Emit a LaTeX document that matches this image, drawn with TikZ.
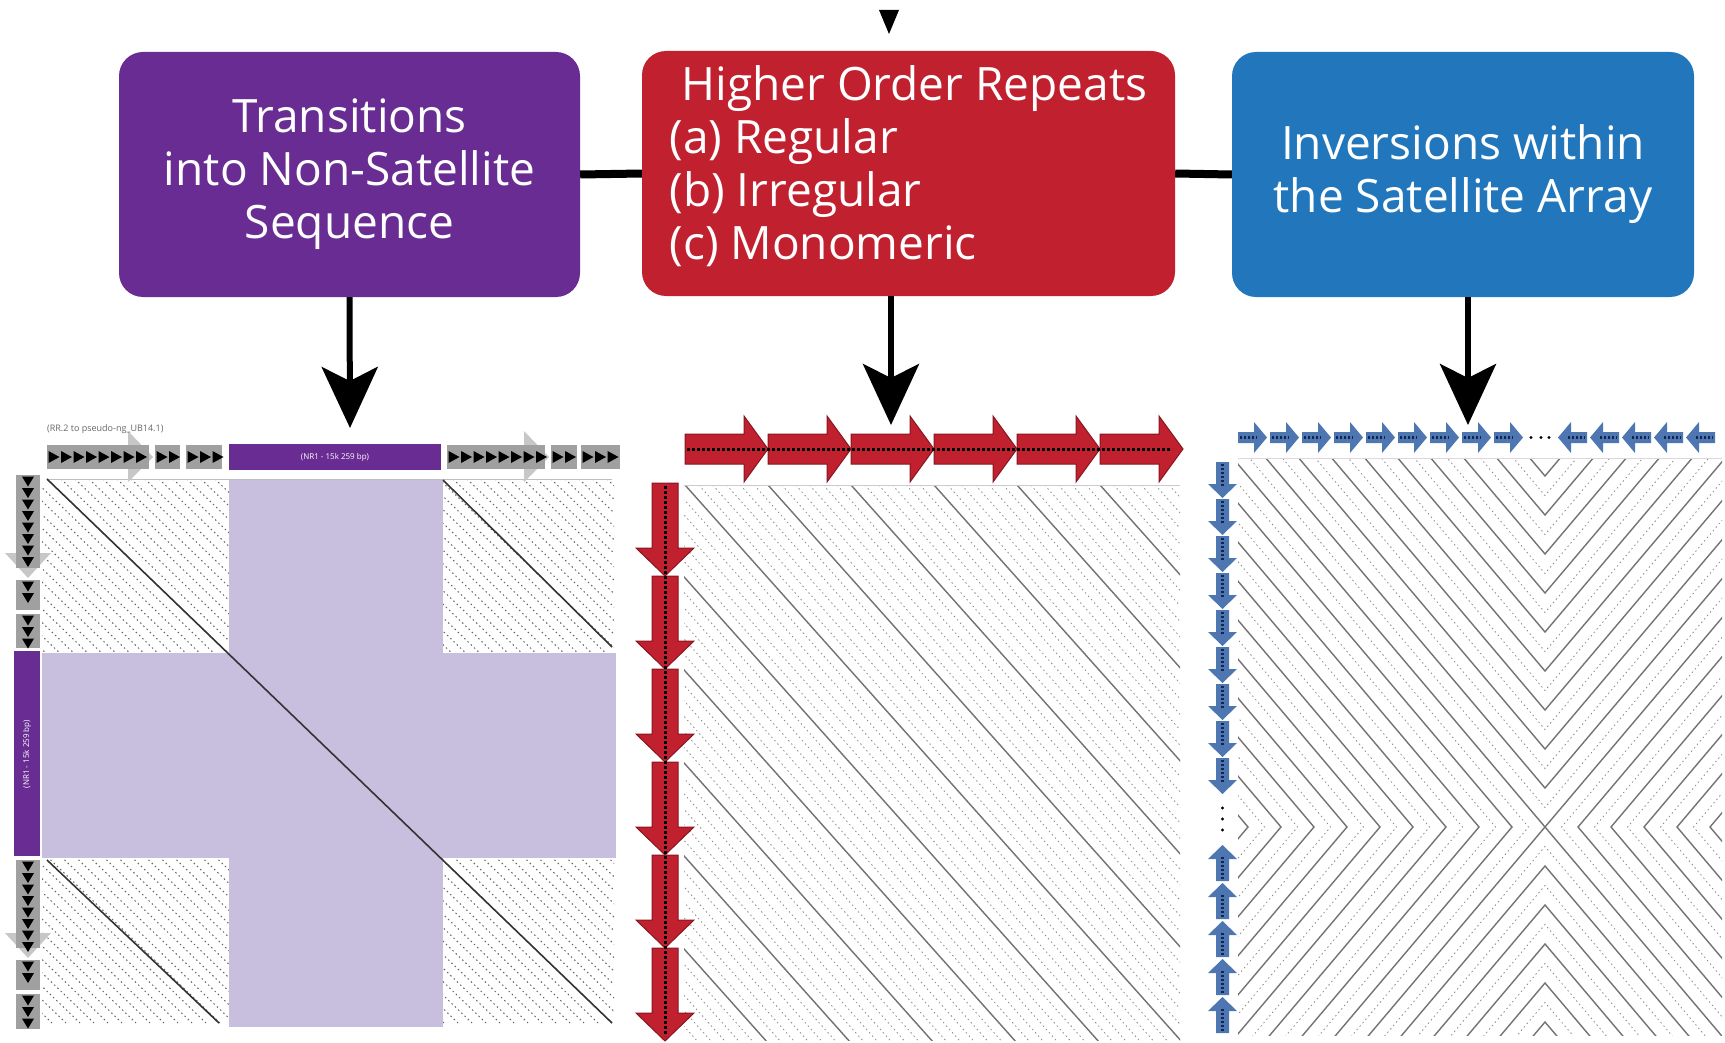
\documentclass[tikz,border=0pt]{standalone}
\usepackage{fontspec}
\setmainfont{Open Sans}
\usetikzlibrary{arrows.meta}

\definecolor{viola}{RGB}{104,44,146}
\definecolor{rosso}{RGB}{193,32,47}
\definecolor{blu}{RGB}{33,118,188}
\definecolor{lilla}{RGB}{200,190,222}
\definecolor{grigio}{RGB}{160,160,160}
\definecolor{bluchiaro}{RGB}{78,118,176}
\definecolor{blunotte}{RGB}{20,35,80}

\tikzset{
  scatola/.style={rounded corners=24pt, minimum width=#1, minimum height=245pt, inner sep=0pt,
    text=white, align=center, font=\fontsize{46}{53}\selectfont},
  freccia/.style={line width=6pt, -{Stealth[length=61pt, width=56pt, inset=14pt]}},
  linea/.style={line width=8pt},
  trama/.style={black!45, line width=0.8pt, dash pattern=on 1.5pt off 3pt},
  diag/.style={black!55, line width=1.4pt},
  piccolo/.style={inner sep=0pt, font=\fontsize{8}{8}\selectfont}
}

\begin{document}
\begin{tikzpicture}[x=1pt, y=-1pt]
        \useasboundingbox (0,0) rectangle (1725,1043);

        % Freccia in alto
        \fill (879,10) -- (899,10) -- (889,34) -- cycle;

        % Riquadri
        \node[scatola=461pt, fill=viola] (transiz) at (349.5,174.5) {Transitions\\into Non-Satellite\\Sequence};
        \node[scatola=533pt, fill=rosso, align=left] (hor) at (908.5,173.5) {\hspace{12pt}Higher Order Repeats\\(a) Regular\\(b) Irregular\\(c) Monomeric\\[-32pt]};
        \node[scatola=462pt, fill=blu] (inv) at (1463,174.5) {Inversions within\\the Satellite Array};

        % Collegamenti
        \draw[linea] (transiz.east) -- (hor.west);
        \draw[linea] (hor.east) -- (inv.west);

        % Pannello sinistro: trama e bande
        \begin{scope}
            \clip (42,479) rectangle (614,1029);
            \foreach \t in {-40,...,40}
                \draw[trama, black!60, line width=1pt] (47+14*\t,479) -- ++(565,544);
        \end{scope}
        \fill[lilla] (229,479) rectangle (443,1027);
        \fill[lilla] (42,653) rectangle (616,858);
        \draw[black!25, line width=0.8pt] (47,479) -- (612,479);
        \draw[black!80, line width=1.6pt] (47,479) -- (612,1023);
        \draw[black!80, line width=1.6pt] (443,480) -- (612,647);
        \draw[black!80, line width=1.6pt] (47,860) -- (219,1023);

        % Traccia orizzontale
        \fill[black!22] (47,446) -- (128,446) -- (128,431) -- (153,457) -- (128,482) -- (128,468) -- (47,468) -- cycle;
        \fill[black!22] (447,446) -- (524,446) -- (524,431) -- (549,457) -- (524,482) -- (524,468) -- (447,468) -- cycle;
        \foreach \a/\b in {47/149, 155/180, 186/222, 447/545, 551/577, 581/620}
            \fill[grigio] (\a,445) rectangle (\b,469);
        \foreach \a/\n in {47/8, 155/2, 186/3, 447/8, 551/2, 581/3}
            \foreach \i in {1,...,\n}
                \fill (\a+12.5*\i-11,451) -- (\a+12.5*\i-11,463) -- (\a+12.5*\i,457) -- cycle;
        \fill[viola] (229,444) rectangle (441,470);
        \node[piccolo, text=white] (nrA) at (335,457) {(NR1 - 15k 259 bp)};
        \node[piccolo, anchor=west, text=black!60, font=\fontsize{9}{9}\selectfont] (didasc) at (47,429) {(RR.2 to pseudo-ng\_UB14.1)};

        % Traccia verticale
        \fill[black!22] (17,475) -- (39,475) -- (39,553) -- (51,553) -- (28,578) -- (5,553) -- (17,553) -- cycle;
        \fill[black!22] (17,860) -- (39,860) -- (39,933) -- (51,933) -- (28,958) -- (5,933) -- (17,933) -- cycle;
        \foreach \a/\b in {475/568, 580/610, 614/648, 860/948, 960/990, 994/1029}
            \fill[grigio] (16,\a) rectangle (40,\b);
        \foreach \a/\n in {475/8, 580/2, 614/3, 860/8, 960/2, 994/3}
            \foreach \i in {1,...,\n}
                \fill (22,\a+11.5*\i-10) -- (34,\a+11.5*\i-10) -- (28,\a+11.5*\i) -- cycle;
        \fill[viola] (14,651) rectangle (40,856);
        \node[piccolo, text=white, rotate=90] (nrB) at (27,754) {(NR1 - 15k 259 bp)};

        % Pannello centrale
        \begin{scope}
            \clip (684,485) rectangle (1180,1040);
            \foreach \t in {-40,...,36}
                \draw[trama] (685+13.83*\t,485) -- ++(560,627.5);
            \foreach \k in {-6,...,5}
                \draw[diag] (685+83*\k,485) -- ++(560,627.5);
        \end{scope}
        \draw[black!20, line width=0.8pt] (684,485) -- (1180,485);
        \foreach \x in {685,768,...,1100}
            \filldraw[fill=rosso, draw=rosso!70!black, line width=1pt] (\x,434) -- (\x+59,434) -- (\x+59,416) -- (\x+83,449) -- (\x+59,482) -- (\x+59,464) -- (\x,464) -- cycle;
        \foreach \y in {483,576,...,948}
            \filldraw[fill=rosso, draw=rosso!70!black, line width=1pt] (652,\y) -- (678,\y) -- (678,\y+65) -- (694,\y+65) -- (665,\y+93) -- (636,\y+65) -- (652,\y+65) -- cycle;
        \draw[dash pattern=on 3pt off 2pt, line width=3pt] (687,449) -- (1172,449);
        \draw[dash pattern=on 3pt off 2pt, line width=3pt] (665,486) -- (665,1036);

        % Pannello destro: inversione
        \begin{scope}
            \clip (1238,458) rectangle (1722,1035);
            \foreach \k in {0,...,10} {
                \draw[diag] (1149-33*\k,359) -- (1545-33*\k,827) -- (1149-33*\k,1295);
                \draw[diag] (1941+33*\k,359) -- (1545+33*\k,827) -- (1941+33*\k,1295);
            }
            \foreach \m in {1,...,10} {
                \draw[diag] (1149,359-39*\m) -- (1545,827-39*\m) -- (1941,359-39*\m);
                \draw[diag] (1149,1295+39*\m) -- (1545,827+39*\m) -- (1941,1295+39*\m);
            }
            \foreach \k in {0.5,1.5,...,10.5} {
                \draw[trama] (1149-33*\k,359) -- (1545-33*\k,827) -- (1149-33*\k,1295);
                \draw[trama] (1941+33*\k,359) -- (1545+33*\k,827) -- (1941+33*\k,1295);
                \draw[trama] (1149,359-39*\k) -- (1545,827-39*\k) -- (1941,359-39*\k);
                \draw[trama] (1149,1295+39*\k) -- (1545,827+39*\k) -- (1941,1295+39*\k);
            }
        \end{scope}
        \draw[black!15, line width=0.8pt] (1238,458) -- (1722,458);
        \foreach \x in {1238,1270,...,1494} {
            \fill[bluchiaro] (\x,432) -- (\x+16,432) -- (\x+16,422) -- (\x+29,437.5) -- (\x+16,453) -- (\x+16,443) -- (\x,443) -- cycle;
            \draw[blunotte, line width=3pt, dash pattern=on 2pt off 2pt] (\x+2,437.5) -- (\x+19,437.5);
        }
        \foreach \x in {1558,1590,...,1686} {
            \fill[bluchiaro] (\x+29,432) -- (\x+13,432) -- (\x+13,422) -- (\x,437.5) -- (\x+13,453) -- (\x+13,443) -- (\x+29,443) -- cycle;
            \draw[blunotte, line width=3pt, dash pattern=on 2pt off 2pt] (\x+10,437.5) -- (\x+27,437.5);
        }
        \foreach \x in {1531,1541,1549}
            \fill (\x,437.5) circle (1.6pt);
        \foreach \y in {462,499,...,758} {
            \fill[bluchiaro] (1216,\y) -- (1229,\y) -- (1229,\y+22) -- (1237,\y+22) -- (1222.5,\y+36) -- (1208,\y+22) -- (1216,\y+22) -- cycle;
            \draw[blunotte, line width=3pt, dash pattern=on 2pt off 2pt] (1222.5,\y+2) -- (1222.5,\y+24);
        }
        \foreach \y in {845,883,...,997} {
            \fill[bluchiaro] (1222.5,\y) -- (1237,\y+14) -- (1229,\y+14) -- (1229,\y+36) -- (1216,\y+36) -- (1216,\y+14) -- (1208,\y+14) -- cycle;
            \draw[blunotte, line width=3pt, dash pattern=on 2pt off 2pt] (1222.5,\y+12) -- (1222.5,\y+34);
        }
        \foreach \y in {808,819,830}
            \fill (1222.5,\y) circle (1.6pt);

        % Frecce verso i grafici
        \coordinate (dotA) at (350,428);
        \coordinate (dotB) at (891,425);
        \coordinate (dotC) at (1468,425);
        \draw[freccia] (transiz.south) -- (dotA);
        \draw[freccia] (dotB |- hor.south) -- (dotB);
        \draw[freccia] (dotC |- inv.south) -- (dotC);

    \end{tikzpicture}
\end{document}
